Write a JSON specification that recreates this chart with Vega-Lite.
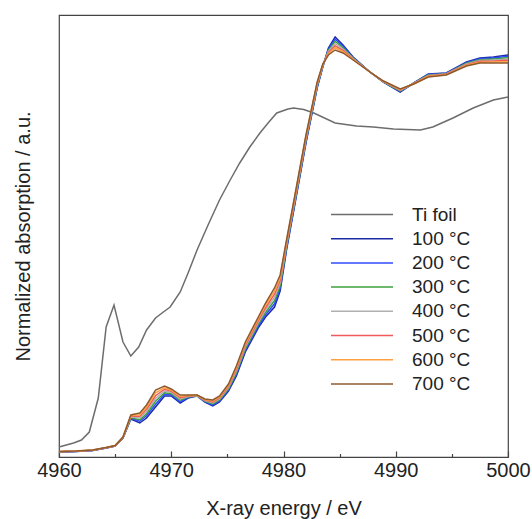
{
  "$schema": "https://vega.github.io/schema/vega-lite/v6.json",
  "width": 449,
  "height": 442,
  "autosize": {"type": "none"},
  "padding": {"left": 59, "top": 15, "right": 24, "bottom": 62},
  "background": "white",
  "config": {
    "view": {"stroke": "#444", "strokeWidth": 1.2},
    "font": "Liberation Sans"
  },
  "datasets": {
    "ti": [
      {"e": 4960, "mu": 0.040}, {"e": 4961.3, "mu": 0.056}, {"e": 4962.0, "mu": 0.068},
      {"e": 4962.7, "mu": 0.100}, {"e": 4963.5, "mu": 0.236}, {"e": 4964.2, "mu": 0.520},
      {"e": 4964.9, "mu": 0.608}, {"e": 4965.7, "mu": 0.460}, {"e": 4966.4, "mu": 0.404},
      {"e": 4967.1, "mu": 0.440}, {"e": 4967.8, "mu": 0.508}, {"e": 4968.6, "mu": 0.556},
      {"e": 4969.3, "mu": 0.580}, {"e": 4969.9, "mu": 0.600}, {"e": 4970.8, "mu": 0.660},
      {"e": 4971.5, "mu": 0.736}, {"e": 4972.3, "mu": 0.828}, {"e": 4973.3, "mu": 0.930},
      {"e": 4974.3, "mu": 1.028}, {"e": 4975.2, "mu": 1.104}, {"e": 4976.1, "mu": 1.176},
      {"e": 4977.0, "mu": 1.240}, {"e": 4977.9, "mu": 1.296}, {"e": 4978.7, "mu": 1.340},
      {"e": 4979.4, "mu": 1.376}, {"e": 4980.4, "mu": 1.392}, {"e": 4980.9, "mu": 1.396},
      {"e": 4981.8, "mu": 1.390}, {"e": 4982.7, "mu": 1.376}, {"e": 4984.6, "mu": 1.336},
      {"e": 4986.5, "mu": 1.324}, {"e": 4988.0, "mu": 1.320}, {"e": 4989.8, "mu": 1.312},
      {"e": 4992.2, "mu": 1.308}, {"e": 4993.3, "mu": 1.320}, {"e": 4995.1, "mu": 1.356},
      {"e": 4996.9, "mu": 1.396}, {"e": 4998.7, "mu": 1.428}, {"e": 5000, "mu": 1.440}
    ],
    "samples": [
      {"e": 4960, "100 °C": 0.020, "200 °C": 0.020, "300 °C": 0.021, "400 °C": 0.021, "500 °C": 0.021, "600 °C": 0.022, "700 °C": 0.022},
      {"e": 4961.5, "100 °C": 0.022, "200 °C": 0.022, "300 °C": 0.023, "400 °C": 0.023, "500 °C": 0.023, "600 °C": 0.024, "700 °C": 0.024},
      {"e": 4963, "100 °C": 0.026, "200 °C": 0.026, "300 °C": 0.027, "400 °C": 0.027, "500 °C": 0.027, "600 °C": 0.028, "700 °C": 0.028},
      {"e": 4964.2, "100 °C": 0.036, "200 °C": 0.036, "300 °C": 0.037, "400 °C": 0.037, "500 °C": 0.037, "600 °C": 0.038, "700 °C": 0.038},
      {"e": 4965, "100 °C": 0.044, "200 °C": 0.044, "300 °C": 0.045, "400 °C": 0.045, "500 °C": 0.045, "600 °C": 0.046, "700 °C": 0.046},
      {"e": 4965.7, "100 °C": 0.076, "200 °C": 0.077, "300 °C": 0.077, "400 °C": 0.078, "500 °C": 0.079, "600 °C": 0.079, "700 °C": 0.080},
      {"e": 4966.4, "100 °C": 0.152, "200 °C": 0.155, "300 °C": 0.157, "400 °C": 0.160, "500 °C": 0.163, "600 °C": 0.165, "700 °C": 0.168},
      {"e": 4967.2, "100 °C": 0.136, "200 °C": 0.143, "300 °C": 0.149, "400 °C": 0.156, "500 °C": 0.163, "600 °C": 0.169, "700 °C": 0.176},
      {"e": 4967.8, "100 °C": 0.156, "200 °C": 0.165, "300 °C": 0.173, "400 °C": 0.182, "500 °C": 0.191, "600 °C": 0.199, "700 °C": 0.208},
      {"e": 4968.6, "100 °C": 0.200, "200 °C": 0.211, "300 °C": 0.223, "400 °C": 0.234, "500 °C": 0.245, "600 °C": 0.257, "700 °C": 0.268},
      {"e": 4969.4, "100 °C": 0.244, "200 °C": 0.251, "300 °C": 0.257, "400 °C": 0.264, "500 °C": 0.271, "600 °C": 0.277, "700 °C": 0.284},
      {"e": 4970.0, "100 °C": 0.244, "200 °C": 0.249, "300 °C": 0.253, "400 °C": 0.258, "500 °C": 0.263, "600 °C": 0.267, "700 °C": 0.272},
      {"e": 4970.8, "100 °C": 0.216, "200 °C": 0.221, "300 °C": 0.227, "400 °C": 0.232, "500 °C": 0.237, "600 °C": 0.243, "700 °C": 0.248},
      {"e": 4971.5, "100 °C": 0.236, "200 °C": 0.238, "300 °C": 0.240, "400 °C": 0.242, "500 °C": 0.244, "600 °C": 0.246, "700 °C": 0.248},
      {"e": 4972.3, "100 °C": 0.244, "200 °C": 0.245, "300 °C": 0.245, "400 °C": 0.246, "500 °C": 0.247, "600 °C": 0.247, "700 °C": 0.248},
      {"e": 4973.0, "100 °C": 0.220, "200 °C": 0.222, "300 °C": 0.224, "400 °C": 0.226, "500 °C": 0.228, "600 °C": 0.230, "700 °C": 0.232},
      {"e": 4973.7, "100 °C": 0.204, "200 °C": 0.208, "300 °C": 0.212, "400 °C": 0.216, "500 °C": 0.220, "600 °C": 0.224, "700 °C": 0.228},
      {"e": 4974.3, "100 °C": 0.220, "200 °C": 0.224, "300 °C": 0.228, "400 °C": 0.232, "500 °C": 0.236, "600 °C": 0.240, "700 °C": 0.244},
      {"e": 4975.1, "100 °C": 0.264, "200 °C": 0.269, "300 °C": 0.273, "400 °C": 0.278, "500 °C": 0.283, "600 °C": 0.287, "700 °C": 0.292},
      {"e": 4975.8, "100 °C": 0.324, "200 °C": 0.331, "300 °C": 0.337, "400 °C": 0.344, "500 °C": 0.351, "600 °C": 0.357, "700 °C": 0.364},
      {"e": 4976.6, "100 °C": 0.420, "200 °C": 0.427, "300 °C": 0.433, "400 °C": 0.440, "500 °C": 0.447, "600 °C": 0.453, "700 °C": 0.460},
      {"e": 4977.8, "100 °C": 0.520, "200 °C": 0.527, "300 °C": 0.535, "400 °C": 0.542, "500 °C": 0.549, "600 °C": 0.557, "700 °C": 0.564},
      {"e": 4978.4, "100 °C": 0.560, "200 °C": 0.569, "300 °C": 0.579, "400 °C": 0.588, "500 °C": 0.597, "600 °C": 0.607, "700 °C": 0.616},
      {"e": 4979.2, "100 °C": 0.600, "200 °C": 0.613, "300 °C": 0.625, "400 °C": 0.638, "500 °C": 0.651, "600 °C": 0.663, "700 °C": 0.676},
      {"e": 4979.7, "100 °C": 0.664, "200 °C": 0.675, "300 °C": 0.685, "400 °C": 0.696, "500 °C": 0.707, "600 °C": 0.717, "700 °C": 0.728},
      {"e": 4980.3, "100 °C": 0.836, "200 °C": 0.843, "300 °C": 0.849, "400 °C": 0.856, "500 °C": 0.863, "600 °C": 0.869, "700 °C": 0.876},
      {"e": 4981.0, "100 °C": 1.008, "200 °C": 1.014, "300 °C": 1.020, "400 °C": 1.026, "500 °C": 1.032, "600 °C": 1.038, "700 °C": 1.044},
      {"e": 4982.0, "100 °C": 1.256, "200 °C": 1.261, "300 °C": 1.267, "400 °C": 1.272, "500 °C": 1.277, "600 °C": 1.283, "700 °C": 1.288},
      {"e": 4983.0, "100 °C": 1.476, "200 °C": 1.480, "300 °C": 1.484, "400 °C": 1.488, "500 °C": 1.492, "600 °C": 1.496, "700 °C": 1.500},
      {"e": 4983.5, "100 °C": 1.560, "200 °C": 1.562, "300 °C": 1.564, "400 °C": 1.566, "500 °C": 1.568, "600 °C": 1.570, "700 °C": 1.572},
      {"e": 4984.0, "100 °C": 1.636, "200 °C": 1.631, "300 °C": 1.627, "400 °C": 1.622, "500 °C": 1.617, "600 °C": 1.613, "700 °C": 1.608},
      {"e": 4984.6, "100 °C": 1.680, "200 °C": 1.671, "300 °C": 1.663, "400 °C": 1.654, "500 °C": 1.645, "600 °C": 1.637, "700 °C": 1.628},
      {"e": 4985.3, "100 °C": 1.648, "200 °C": 1.643, "300 °C": 1.637, "400 °C": 1.632, "500 °C": 1.627, "600 °C": 1.621, "700 °C": 1.616},
      {"e": 4986.2, "100 °C": 1.600, "200 °C": 1.598, "300 °C": 1.596, "400 °C": 1.594, "500 °C": 1.592, "600 °C": 1.590, "700 °C": 1.588},
      {"e": 4987.7, "100 °C": 1.540, "200 °C": 1.540, "300 °C": 1.540, "400 °C": 1.540, "500 °C": 1.540, "600 °C": 1.540, "700 °C": 1.540},
      {"e": 4988.9, "100 °C": 1.500, "200 °C": 1.501, "300 °C": 1.501, "400 °C": 1.502, "500 °C": 1.503, "600 °C": 1.503, "700 °C": 1.504},
      {"e": 4990.4, "100 °C": 1.460, "200 °C": 1.462, "300 °C": 1.464, "400 °C": 1.466, "500 °C": 1.468, "600 °C": 1.470, "700 °C": 1.472},
      {"e": 4991.6, "100 °C": 1.496, "200 °C": 1.495, "300 °C": 1.495, "400 °C": 1.494, "500 °C": 1.493, "600 °C": 1.493, "700 °C": 1.492},
      {"e": 4992.9, "100 °C": 1.532, "200 °C": 1.530, "300 °C": 1.528, "400 °C": 1.526, "500 °C": 1.524, "600 °C": 1.522, "700 °C": 1.520},
      {"e": 4994.5, "100 °C": 1.536, "200 °C": 1.535, "300 °C": 1.533, "400 °C": 1.532, "500 °C": 1.531, "600 °C": 1.529, "700 °C": 1.528},
      {"e": 4996.3, "100 °C": 1.580, "200 °C": 1.577, "300 °C": 1.575, "400 °C": 1.572, "500 °C": 1.569, "600 °C": 1.567, "700 °C": 1.564},
      {"e": 4997.5, "100 °C": 1.596, "200 °C": 1.593, "300 °C": 1.589, "400 °C": 1.586, "500 °C": 1.583, "600 °C": 1.579, "700 °C": 1.576},
      {"e": 4998.7, "100 °C": 1.600, "200 °C": 1.596, "300 °C": 1.592, "400 °C": 1.588, "500 °C": 1.584, "600 °C": 1.580, "700 °C": 1.576},
      {"e": 5000, "100 °C": 1.608, "200 °C": 1.603, "300 °C": 1.597, "400 °C": 1.592, "500 °C": 1.587, "600 °C": 1.581, "700 °C": 1.576}
    ]
  },
  "layer": [
    {
      "data": {"name": "ti"},
      "mark": {"type": "line", "strokeWidth": 1.5},
      "encoding": {
        "x": {
          "field": "e", "type": "quantitative",
          "scale": {"domain": [4960, 5000], "nice": false},
          "axis": {
            "values": [4960, 4965, 4970, 4975, 4980, 4985, 4990, 4995, 5000],
            "format": "d",
            "labelExpr": "datum.value % 10 === 0 ? datum.label : ''",
            "labelOverlap": false,
            "labelFlush": false,
            "tickSize": {"condition": {"test": "datum.value % 10 === 0", "value": -6}, "value": -3.5},
            "tickColor": "#444",
            "tickWidth": 1.2,
            "domain": false,
            "grid": false,
            "labelFontSize": 20,
            "labelColor": "#222",
            "labelPadding": 9,
            "title": "X-ray energy / eV",
            "titleFontSize": 20,
            "titleFontWeight": "normal",
            "titleColor": "#222",
            "titlePadding": 16
          }
        },
        "y": {
          "field": "mu", "type": "quantitative",
          "scale": {"domain": [0, 1.768], "nice": false},
          "axis": {
            "ticks": false, "labels": false, "domain": false, "grid": false,
            "title": "Normalized absorption / a.u.",
            "titleFontSize": 20, "titleFontWeight": "normal", "titleColor": "#222",
            "titlePadding": 26
          }
        },
        "color": {
          "datum": "Ti foil", "type": "nominal", "title": null,
          "scale": {
            "domain": ["Ti foil", "100 °C", "200 °C", "300 °C", "400 °C", "500 °C", "600 °C", "700 °C"],
            "range": ["#6d6d6d", "#1c2aa8", "#2f4bff", "#3ba03b", "#b0b0b0", "#f05a5a", "#ffa040", "#8c5a2e"]
          },
          "legend": {
            "title": null,
            "orient": "none",
            "legendX": 271,
            "legendY": 190,
            "symbolType": "stroke",
            "symbolSize": 3844,
            "symbolStrokeWidth": 1.5,
            "clipHeight": 19,
            "labelFontSize": 19,
            "labelColor": "#222",
            "labelOffset": 18,
            "rowPadding": 4.2
          }
        }
      }
    },
    {
      "data": {"name": "samples"},
      "transform": [
        {"fold": ["100 °C", "200 °C", "300 °C", "400 °C", "500 °C", "600 °C", "700 °C"], "as": ["series", "mu"]}
      ],
      "mark": {"type": "line", "strokeWidth": 1.5},
      "encoding": {
        "x": {"field": "e", "type": "quantitative"},
        "y": {"field": "mu", "type": "quantitative"},
        "color": {"field": "series", "type": "nominal", "title": null}
      }
    }
  ]
}
